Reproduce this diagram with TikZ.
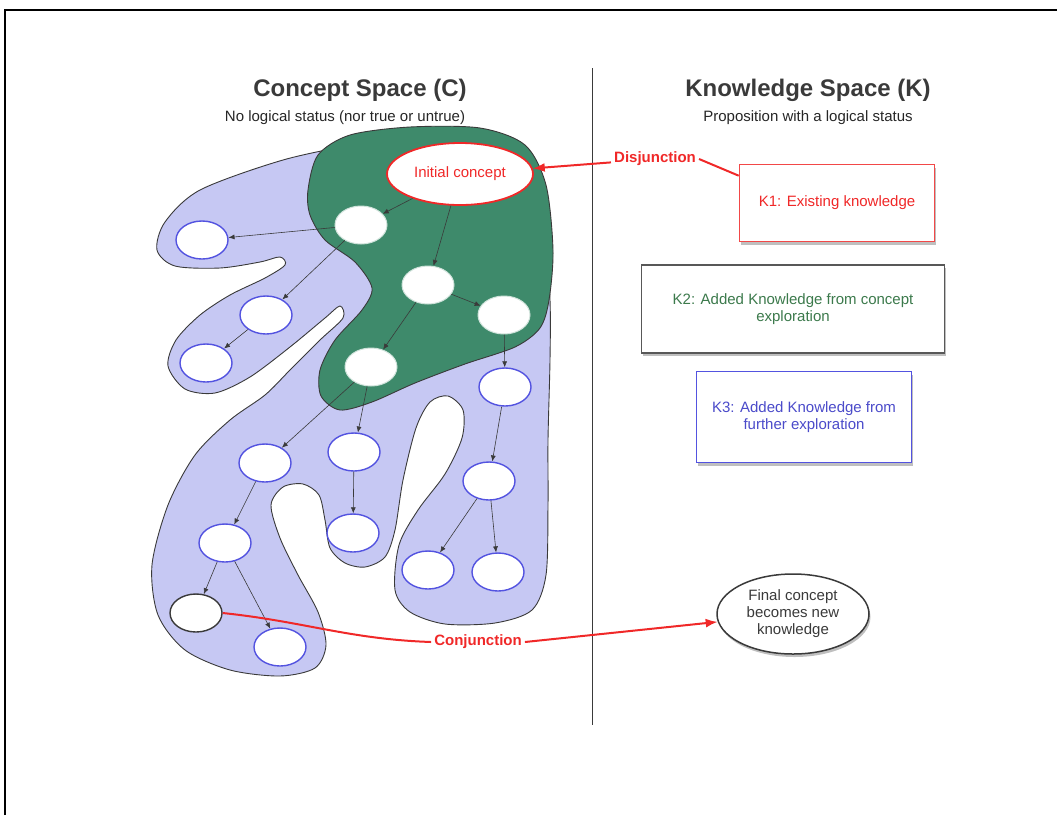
\documentclass[tikz,border=0pt]{standalone}
\usepackage{fontspec}
\setmainfont{Liberation Sans}
\usepackage{tikz}
\usetikzlibrary{arrows.meta,shapes.geometric,shadows}
\definecolor{csGreen}{HTML}{3E8A6B}
\definecolor{csLilac}{HTML}{C6C8F3}
\definecolor{csRed}{HTML}{F02828}
\definecolor{csBlue}{HTML}{5353E0}
\definecolor{csInk}{HTML}{3A3A3A}
\definecolor{csLeaf}{HTML}{3C7A4C}

\begin{document}
\begin{tikzpicture}[x=1pt,y=-1pt,
  font=\fontsize{15}{17}\selectfont,
  blob/.style={draw=csInk,line width=0.9pt},
  idea/.style={ellipse,fill=white,inner sep=0pt,
    minimum width=52pt,minimum height=38pt},
  idealil/.style={idea,draw=csBlue,line width=1.4pt},
  ideagrn/.style={idea,draw=white!75!csGreen,line width=1pt},
  link/.style={-{Latex[length=6pt,width=5pt]},line width=0.6pt,csInk},
  kbox/.style={rectangle,fill=white,line width=1.6pt,align=center,
    drop shadow={shadow xshift=1.5pt,shadow yshift=-3pt,opacity=0.5}},
  redlabel/.style={text=csRed,font=\fontsize{15}{17}\selectfont\bfseries,
    inner sep=3pt},
  redline/.style={csRed,line width=2pt},
  redarrow/.style={redline,-{Latex[length=12pt,width=9pt]}}
]
  \useasboundingbox (0,0) rectangle (1057,815);
  \draw[line width=2pt] (5,815) -- (5,10) -- (1057,10);

  \node[font=\fontsize{24}{28}\selectfont\bfseries,text=csInk]
    (ctitle) at (360,90) {Concept Space (C)};
  \node[text=black!85] (csub) at (345,118)
    {No logical status (nor true or untrue)};
  \node[font=\fontsize{24}{28}\selectfont\bfseries,text=csInk]
    (ktitle) at (808,90) {Knowledge Space (K)};
  \node[text=black!85] (ksub) at (808,118)
    {Proposition with a logical status};
  \draw[csInk,line width=1pt] (592,68) -- (592,725);

  \path[blob,fill=csLilac] plot[smooth cycle,tension=0.5] coordinates {
    (420,135) (363,143) (283,160) (200,190) (165,222) (157,250) (175,266)
    (220,268) (260,262) (280,257) (285,265) (265,278) (230,295) (200,315)
    (176,340) (168,366) (185,389) (215,393) (250,377) (290,347) (325,318)
    (340,306) (343,318) (320,340) (290,370) (265,395) (230,420) (195,455)
    (168,505) (152,565) (158,615) (185,650) (230,670) (280,676) (315,668)
    (326,645) (318,612) (298,575) (280,538) (271,505) (283,487) (303,484)
    (319,495) (325,520) (330,548) (345,563) (365,567) (385,557) (395,530)
    (403,480) (416,428) (430,402) (448,396) (463,410) (462,438) (445,474)
    (418,510) (399,545) (395,590) (410,612) (445,624) (495,623) (532,610)
    (546,575) (548,505) (548,440) (550,360) (550,300) (545,230) (520,160)
    (480,138)};
  \path[blob,fill=csGreen] plot[smooth cycle,tension=0.5] coordinates {
    (308,190) (318,155) (350,135) (410,127) (480,128) (525,145) (546,185)
    (553,250) (549,300) (540,328) (515,347) (465,364) (415,383) (372,402)
    (340,410) (321,396) (320,370) (335,340) (362,310) (372,288) (355,262)
    (325,240) (310,215)};

  \node[idea,draw=csRed,line width=1.8pt,minimum width=146pt,
    minimum height=62pt,text=csRed] (init) at (460,174) {Initial concept};
  \node[ideagrn] (g1) at (361,225) {};
  \node[ideagrn] (g2) at (428,285) {};
  \node[ideagrn] (g3) at (504,315) {};
  \node[ideagrn] (g4) at (371,367) {};
  \node[idealil] (b1) at (202,240) {};
  \node[idealil] (b2) at (266,315) {};
  \node[idealil] (b3) at (206,363) {};
  \node[idealil] (b4) at (505,387) {};
  \node[idealil] (b5) at (265,463) {};
  \node[idealil] (b6) at (354,452) {};
  \node[idealil] (b7) at (489,481) {};
  \node[idealil] (b8) at (225,543) {};
  \node[idealil] (b9) at (353,533) {};
  \node[idealil] (b10) at (428,570) {};
  \node[idealil] (b11) at (498,572) {};
  \node[idea,draw=csInk,line width=1.4pt] (b12) at (196,613) {};
  \node[idealil] (b13) at (280,647) {};

  \draw[link] (init) -- (g1);
  \draw[link] (init) -- (g2);
  \draw[link] (g1) -- (b1);
  \draw[link] (g1) -- (b2);
  \draw[link] (b2) -- (b3);
  \draw[link] (g2) -- (g3);
  \draw[link] (g2) -- (g4);
  \draw[link] (g3) -- (b4);
  \draw[link] (g4) -- (b5);
  \draw[link] (g4) -- (b6);
  \draw[link] (b4) -- (b7);
  \draw[link] (b5) -- (b8);
  \draw[link] (b6) -- (b9);
  \draw[link] (b7) -- (b10);
  \draw[link] (b7) -- (b11);
  \draw[link] (b8) -- (b12);
  \draw[link] (b8) -- (b13);

  \node[kbox,draw=csRed!85,text=csRed,minimum width=195pt,
    minimum height=77pt] (k1) at (837,203) {K1: Existing knowledge};
  \node[kbox,draw=csInk!85,text=csLeaf,minimum width=303pt,
    minimum height=88pt] (k2) at (793,309)
    {K2: Added Knowledge from concept\\exploration};
  \node[kbox,draw=csBlue,text=csBlue!90!black,minimum width=215pt,
    minimum height=91pt] (k3) at (804,417)
    {K3: Added Knowledge from\\further exploration};
  \node[ellipse,draw=csInk,line width=1.5pt,fill=white,align=center,
    minimum width=152pt,minimum height=80pt,inner sep=0pt,text=csInk,
    drop shadow={shadow xshift=1.5pt,shadow yshift=-3pt,opacity=0.5}]
    (final) at (793,614) {Final concept\\becomes new\\knowledge};

  \node[redlabel] (disj) at (655,159) {Disjunction};
  \draw[redarrow] (disj) -- (init);
  \draw[redline] (disj.east) -- ([yshift=-12pt]k1.north west);
  \node[redlabel] (conj) at (478,642) {Conjunction};
  \draw[redline] (b12.east) to[out=-6,in=178] (conj.west);
  \draw[redarrow] (conj.east) -- (final);
\end{tikzpicture}
\end{document}
